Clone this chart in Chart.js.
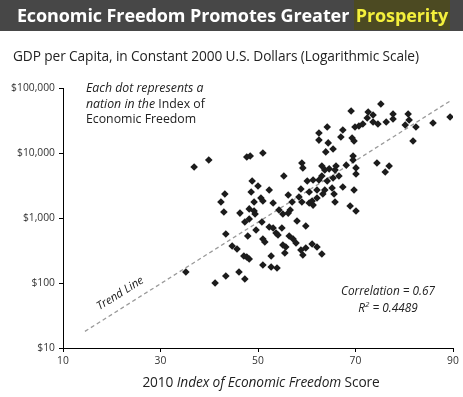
<!DOCTYPE html>
<html>
<head>
<meta charset="utf-8">
<script src="https://cdn.jsdelivr.net/npm/chart.js"></script>
<style>
body{margin:0;width:463px;height:397px;position:relative;background:#fff;font-family:'Open Sans',sans-serif;overflow:hidden;color:#333}
#bar{position:absolute;left:0;top:0;width:463px;height:31px;background:#474747}
#title{position:absolute;left:0;top:0;width:467px;line-height:31px;text-align:center;color:#fff;font-weight:bold;font-size:18px;letter-spacing:-0.1px}
#title span{background:#4c4a22;color:#f4f03c;padding:3px 2px}
#sub{position:absolute;left:13px;top:46px;font-size:13.7px;color:#222;white-space:nowrap;letter-spacing:-0.1px}
#note{position:absolute;left:86px;top:80px;font-size:12.3px;line-height:15.5px;color:#222}
#trend{position:absolute;left:93px;top:285px;font-size:11.5px;font-style:italic;color:#222;transform:rotate(-32deg);white-space:nowrap}
#corr{position:absolute;left:330px;top:283px;width:116px;text-align:center;font-size:11.8px;line-height:14px;font-style:italic;color:#222}
#xtitle{position:absolute;left:0;top:372px;width:522px;text-align:center;font-size:13.7px;color:#222;letter-spacing:-0.1px}
canvas{position:absolute;left:0;top:0}
div{z-index:2}
</style>
</head>
<body>
<div id="bar"></div>
<div id="title">Economic Freedom Promotes Greater <span>Prosperity</span></div>
<div id="sub">GDP per Capita, in Constant 2000 U.S. Dollars (Logarithmic Scale)</div>
<canvas id="myChart" width="463" height="397"></canvas>
<div id="note"><i>Each dot represents a</i><br><i>nation in the</i> Index of<br>Economic Freedom</div>
<div id="trend">Trend Line</div>
<div id="corr">Correlation = 0.67<br>R<sup style="font-size:8px">2</sup> = 0.4489</div>
<div id="xtitle">2010 <i>Index of Economic Freedom</i> Score</div>
<script>
const scoreTicks = [10,30,50,70,90];
const gdpTicks = [10,100,1000,10000,100000];

const scores = [36.9,39.9,47.7,48.4,51.0,
  48.8,50.0,48.6,52.3,43.2,42.4,49.2,50.6,51.0,53.1,43.0,46.3,48.2,49.2,49.4,55.1,54.3,
  43.4,47.3,48.2,50.8,49.6,47.9,52.3,53.1,54.9,51.0,51.4,44.7,45.7,47.1,47.7,48.2,52.7,51.0,52.7,35.2,43.4,46.1,47.3,41.2,53.9,
  57.0,59.0,60.5,61.3,65.8,68.9,70.1,56.6,56.2,58.0,59.8,53.7,54.1,56.4,57.2,55.1,55.7,55.5,57.8,58.8,59.8,59.2,61.1,62.1,63.1,
  59.0,59.2,55.3,63.1,64.6,63.7,66.0,65.8,66.6,68.1,69.5,69.5,70.1,70.1,60.1,61.3,62.5,63.1,64.2,65.4,58.8,60.5,62.1,63.7,65.2,67.4,69.7,63.3,65.6,56.2,58.4,61.1,62.1,
  62.5,62.5,64.4,65.4,63.9,64.2,67.4,67.0,69.3,69.7,69.1,69.9,70.7,71.5,72.4,72.6,73.6,75.2,73.6,74.6,76.3,77.7,77.7,80.8,81.0,80.2,82.4,85.9,89.4,81.8,74.4,76.9,76.1];

const gdp = [6100,7800,8700,9000,10000,
  3710,3110,2510,2700,2340,1760,1760,2030,1830,1700,1240,1190,1380,1280,1150,1150,1330,
  568,867,966,867,654,528,728,702,702,475,427,371,333,260,251,234,260,189,176,148,128,148,115,100,170,
  1760,1760,1700,1580,1760,1530,1280,1330,1190,899,753,588,547,528,475,384,358,290,412,322,345,270,398,358,279,
  7000,5900,4430,6300,5700,5500,6300,5500,4430,6500,9000,7800,5900,4750,3710,3850,3850,4430,3710,4120,2790,2510,2700,2700,2890,3000,2700,2340,2340,2260,2100,1830,2030,
  20300,15800,14300,11500,10400,25100,22600,17600,17000,15300,44300,25100,26000,27900,34500,42700,38500,56800,30000,27900,30000,39800,33300,39800,32200,27000,25100,29000,35800,15300,7000,6300,5100];

// trend line end points
const trendX = [14.5, 89.4];
const trendY = [18, 63000];

const axisGrid = {drawOnChartArea:false, drawTicks:true, tickLength:4, color:'#000'};
const axisBorder = {display:true, color:'#000', width:1};
const tickFont = {family:'Open Sans', size:10.3};

new Chart('myChart', {
  type: 'scatter',
  data: {
    datasets: [{
      data: scores.map((s,i)=>({x:s, y:gdp[i]})),
      pointStyle: 'rectRot',
      pointRadius: 3.8,
      backgroundColor: '#1c1c1c',
      borderWidth: 0,
      order: 1
    }, {
      type: 'line',
      data: trendX.map((s,i)=>({x:s, y:trendY[i]})),
      borderColor: '#9a9a9a',
      borderWidth: 1.3,
      borderDash: [4,3],
      pointRadius: 0,
      fill: false,
      order: 2
    }]
  },
  options: {
    responsive: false,
    animation: false,
    layout: {padding:{left:0, right:10, top:88, bottom:0}},
    plugins: {legend:{display:false}, tooltip:{enabled:false}},
    scales: {
      x: {
        type: 'linear', min: 10, max: 90,
        afterBuildTicks: s => { s.ticks = scoreTicks.map(v=>({value:v})) },
        afterFit: s => { s.height = 49 },
        grid: axisGrid, border: axisBorder,
        ticks: {font:tickFont, color:'#333', padding:3, maxRotation:0}
      },
      y: {
        type: 'logarithmic', min: 10, max: 100000,
        afterBuildTicks: s => { s.ticks = gdpTicks.map(v=>({value:v})) },
        afterFit: s => { s.width = 63 },
        grid: axisGrid, border: axisBorder,
        ticks: {font:tickFont, color:'#333', padding:4, callback: v => '$' + v.toLocaleString('en-US')}
      }
    }
  }
});
</script>
</body>
</html>
